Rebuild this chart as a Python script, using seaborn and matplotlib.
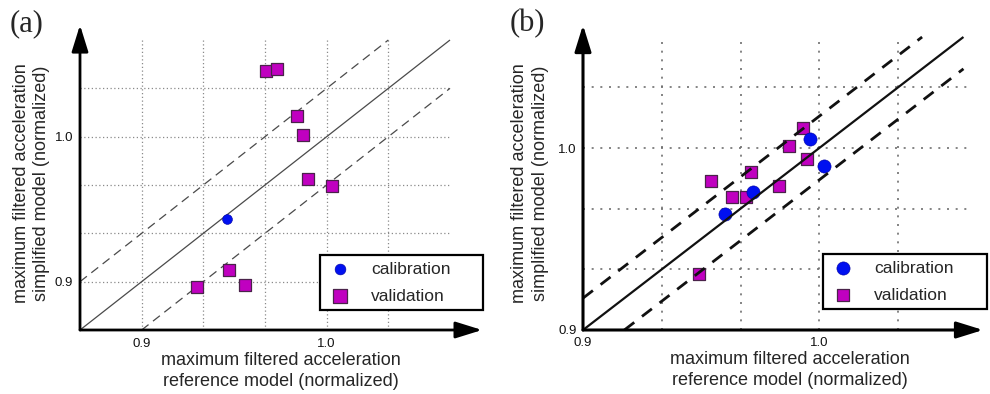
import numpy as np
import pandas as pd
import matplotlib
matplotlib.use("Agg")
import matplotlib.pyplot as plt
import seaborn as sns

# ---------------- data ----------------
groups = ["calibration", "validation"]

a_cal_x = [0.946]
a_cal_y = [0.943]
a_val_x = [0.967, 0.973, 0.984, 0.987, 0.990, 1.003, 0.947, 0.930, 0.956]
a_val_y = [1.045, 1.047, 1.014, 1.001, 0.971, 0.966, 0.908, 0.896, 0.898]

b_cal_x = [0.960, 0.972, 0.996, 1.002]
b_cal_y = [0.964, 0.976, 1.005, 0.990]
b_val_x = [0.954, 0.971, 0.963, 0.969, 0.949, 0.983, 0.987, 0.993, 0.995]
b_val_y = [0.982, 0.987, 0.973, 0.973, 0.931, 0.979, 1.001, 1.011, 0.994]

tick_vals = [0.9, 1.0]
tick_labels = ["0.9", "1.0"]
x_label = "maximum filtered acceleration\nreference model (normalized)"
y_label = "maximum filtered acceleration\nsimplified model (normalized)"
panel_labels = ["(a)", "(b)"]

# ---------------- style ----------------
sns.set_theme(style="white")
plt.rcParams["font.family"] = ["Liberation Sans", "DejaVu Sans"]

BLUE = "#0010f0"
MAGENTA = "#c000c0"

fig = plt.figure(figsize=(9.9, 3.94), dpi=100)
W, H = 990, 394


def px_axes(l, r, b, t):
    return fig.add_axes([l / W, (H - b) / H, (r - l) / W, (b - t) / H])


def make_df(cx, cy, vx, vy):
    return pd.DataFrame({
        "x": list(cx) + list(vx),
        "y": list(cy) + list(vy),
        "group": [groups[0]] * len(cx) + [groups[1]] * len(vx),
    })


def panel(ax, df, xlim, ylim, grid_pos, band, line_hi, cfg):
    ax.set_xlim(*xlim)
    ax.set_ylim(*ylim)
    for sp in ax.spines.values():
        sp.set_visible(False)
    labels = [tick_labels[tick_vals.index(round(g, 4))] if round(g, 4) in tick_vals else "" for g in grid_pos]
    ax.set_xticks(grid_pos, labels)
    ax.set_yticks(grid_pos, labels)
    ax.tick_params(length=0, labelsize=9.5, colors="#111111")
    ax.tick_params(axis="x", pad=cfg["xpad"])
    ax.tick_params(axis="y", pad=cfg["ypad"])
    ax.grid(True, color=cfg["gcol"], linestyle=cfg["gls"], linewidth=cfg["glw"])
    ax.set_axisbelow(True)

    lo_x, lo_y = xlim[0], ylim[0]
    lo = max(lo_x, lo_y)
    # identity and tolerance band lines
    ax.plot([lo, line_hi], [lo, line_hi], color=cfg["lcol"], lw=cfg["llw"],
            zorder=cfg["lz"], clip_on=False, solid_capstyle="butt")
    ax.plot([lo, line_hi - band], [lo + band, line_hi], color=cfg["lcol"], lw=cfg["dlw"],
            linestyle=cfg["dls"], zorder=cfg["lz"], clip_on=False)
    ax.plot([lo + band, line_hi], [lo, line_hi - band], color=cfg["lcol"], lw=cfg["dlw"],
            linestyle=cfg["dls"], zorder=cfg["lz"], clip_on=False)

    cal = df[df.group == groups[0]]
    val = df[df.group == groups[1]]
    sns.scatterplot(data=val, x="x", y="y", ax=ax, marker="s", s=cfg["ss"], color=MAGENTA,
                    edgecolor="#4a234a", linewidth=0.9, label=groups[1], zorder=cfg["mz"])
    sns.scatterplot(data=cal, x="x", y="y", ax=ax, marker="o", s=cfg["cs"], color=BLUE,
                    edgecolor="#0000a0", linewidth=0.4, label=groups[0], zorder=cfg["mz"] + 0.1)

    # axis arrows
    arrow = dict(arrowstyle="-|>,head_length=0.9,head_width=0.28", lw=cfg["alw"], color="black",
                 shrinkA=0, shrinkB=0, mutation_scale=18)
    ax.annotate("", xy=(cfg["ax_end"], lo_y), xytext=(lo_x, lo_y), arrowprops=arrow,
                annotation_clip=False, zorder=5)
    ax.annotate("", xy=(lo_x, cfg["ay_end"]), xytext=(lo_x, lo_y), arrowprops=arrow,
                annotation_clip=False, zorder=5)

    ax.set_xlabel(x_label, fontsize=13, linespacing=1.25)
    ax.set_ylabel(y_label, fontsize=13, linespacing=1.25)
    ax.xaxis.set_label_coords(*cfg["xl"])
    ax.yaxis.set_label_coords(*cfg["yl"])
    ax.xaxis.label.set_va("center")
    ax.yaxis.label.set_va("center")

    h, l = ax.get_legend_handles_labels()
    order = [l.index(g) for g in groups]
    leg = ax.legend([h[i] for i in order], [l[i] for i in order], loc="center left",
                    bbox_to_anchor=cfg["lbox"], bbox_transform=fig.transFigure, mode="expand",
                    fontsize=12.5, frameon=True, fancybox=False, framealpha=1,
                    borderpad=0.35, labelspacing=0.68, handletextpad=1.0, handlelength=1.6,
                    borderaxespad=0, scatterpoints=1, markerscale=cfg["lms"])
    leg.get_frame().set_edgecolor("black")
    leg.get_frame().set_linewidth(1.6)


# panel (a)
axA = px_axes(80, 450, 330, 40)
loA = 0.9 - 1 / 30
hiA = loA + 0.2
gridA = [round(0.9 + k / 30, 4) for k in range(5)]
panel(axA, make_df(a_cal_x, a_cal_y, a_val_x, a_val_y), (loA, hiA), (loA, hiA), gridA,
      1 / 30, hiA,
      dict(xpad=6, ypad=5, gcol="#8a8a8a", gls=(0, (1, 2)), glw=0.9,
           lcol="#4a4a4a", llw=0.9, dlw=0.9, dls=(0, (7, 4.5)), lz=2, mz=3,
           ss=80, cs=50, alw=2.0, ax_end=1.084, ay_end=1.077, lms=1.1,
           xl=(0.543, -0.141), yl=(-0.132, 0.507),
           lbox=(320 / W, (H - 310) / H, 163 / W, 55 / H)))

# panel (b)
axB = px_axes(583, 967, 330, 37)
gridB = [round(0.9 + k / 30, 4) for k in range(5)]
panel(axB, make_df(b_cal_x, b_cal_y, b_val_x, b_val_y), (0.9, 1.0625), (0.9, 1.061), gridB,
      0.0175, 1.061,
      dict(xpad=5, ypad=4.5, gcol="#707070", gls=(0, (1.2, 4)), glw=1.2,
           lcol="#111111", llw=1.6, dlw=2.0, dls=(0, (4.5, 3.5)), lz=4, mz=3,
           ss=78, cs=90, alw=2.2, ax_end=1.0693, ay_end=1.0676, lms=1.0,
           xl=(0.539, -0.1365), yl=(-0.138, 0.502),
           lbox=(823 / W, (H - 310) / H, 164 / W, 57 / H)))

fig.text(10 / W, 1 - 24 / H, panel_labels[0], family=["Liberation Serif", "DejaVu Serif"],
         fontsize=22, va="center", ha="left")
fig.text(510 / W, 1 - 24 / H, panel_labels[1], family=["Liberation Serif", "DejaVu Serif"],
         fontsize=22, va="center", ha="left")

fig.savefig("out.png", dpi=100)
